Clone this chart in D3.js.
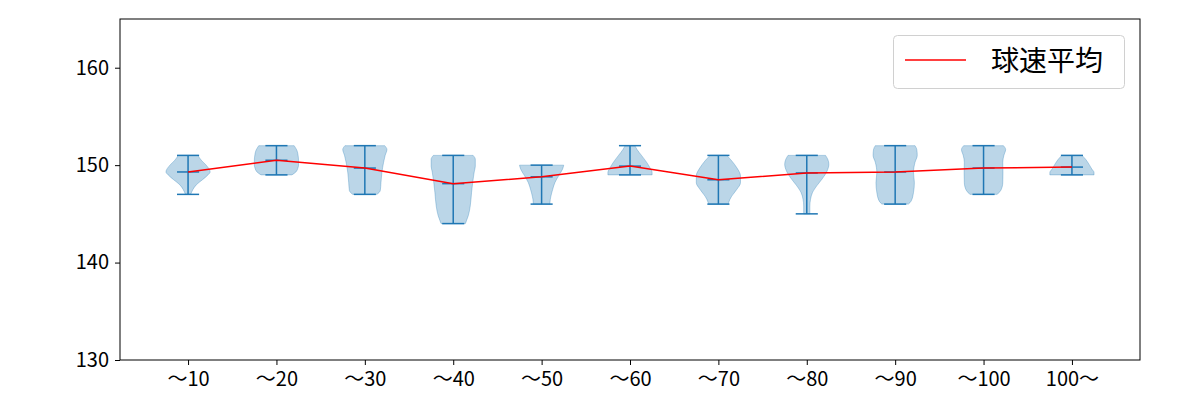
<!DOCTYPE html>
<html><head><meta charset="utf-8">
<script src="https://cdn.jsdelivr.net/npm/d3@7"></script>
<style>body{margin:0;background:#fff}svg{display:block}text{font-family:"Noto Sans CJK JP","Noto Sans",sans-serif}</style>
</head><body><svg id="c" width="1200" height="400"></svg>
<script>
const categories = ["〜10","〜20","〜30","〜40","〜50","〜60","〜70","〜80","〜90","〜100","100〜"];
const minVals  = [147,149,147,144,146,149,146,145,146,147,149];
const maxVals  = [151,152,152,151,150,152,151,151,152,152,151];
const meanVals = [149.3,150.5,149.7,148.1,148.8,149.9,148.5,149.2,149.3,149.7,149.8];
// density profiles: [value, relative half-width]
const profiles = [
  [[147,0.12],[147.5,0.22],[148,0.38],[148.5,0.65],[149,0.9],[149.3,1.0],[150,0.82],[150.5,0.6],[151,0.45]],
  [[149,0.7],[149.3,0.88],[149.7,0.97],[150,1.0],[150.5,1.0],[151,0.98],[151.5,0.93],[152,0.8]],
  [[147,0.55],[147.4,0.7],[148.2,0.73],[149.2,0.77],[150.3,0.85],[151,0.92],[151.6,1.0],[152,0.9]],
  [[144,0.55],[144.3,0.6],[144.8,0.68],[145.8,0.77],[147.2,0.83],[148.2,0.88],[149.3,0.95],[149.9,1.0],[150.6,1.0],[151,0.9]],
  [[146,0.38],[146.2,0.38],[146.8,0.42],[147.5,0.5],[148.2,0.6],[148.9,0.77],[149.6,0.95],[150,1.0]],
  [[149,1.0],[149.25,1.0],[149.75,0.9],[150.3,0.75],[151,0.52],[151.6,0.32],[152,0.22]],
  [[146,0.45],[146.2,0.47],[146.8,0.6],[147.5,0.83],[148.2,1.0],[148.9,1.0],[149.75,0.83],[150.45,0.6],[151,0.38]],
  [[145,0.14],[145.8,0.14],[146.5,0.17],[147.2,0.26],[147.9,0.46],[148.6,0.7],[149.4,0.92],[150.1,1.0],[150.6,0.95],[151,0.85]],
  [[146,0.6],[146.3,0.72],[147.2,0.83],[148.2,0.87],[149.25,0.83],[150.3,0.9],[151,1.0],[151.6,0.98],[152,0.9]],
  [[147,0.62],[147.5,0.8],[148.2,0.87],[149.25,0.88],[150.3,0.87],[151,0.92],[151.6,1.0],[152,0.9]],
  [[149,1.0],[149.25,1.0],[149.6,0.9],[150.1,0.77],[150.6,0.62],[151,0.46]]
];
const yTicks = [130,140,150,160];
const legendLabel = "球速平均";

const L=120,R=1140,T=19,B=360;
const svg=d3.select("#c");
const x=d3.scaleLinear().domain([0.23,11.77]).range([L,R]);
const y=d3.scaleLinear().domain([130,165]).range([B,T]);
const halfW=0.25, capW=0.125;
const blue="#1f77b4";

const g=svg.append("g");
profiles.forEach((p,i)=>{
  const c=i+1;
  const area=d3.area().curve(d3.curveMonotoneY)
    .y(d=>y(d[0]))
    .x0(d=>x(c-halfW*d[1]))
    .x1(d=>x(c+halfW*d[1]));
  g.append("path").attr("d",area(p)).attr("fill",blue).attr("fill-opacity",0.3)
    .attr("stroke",blue).attr("stroke-opacity",0.3).attr("stroke-width",1);
});
categories.forEach((cat,i)=>{
  const c=i+1;
  g.append("line").attr("x1",x(c)).attr("x2",x(c)).attr("y1",y(minVals[i])).attr("y2",y(maxVals[i]))
    .attr("stroke",blue).attr("stroke-width",1.5);
  [minVals[i],maxVals[i],meanVals[i]].forEach(v=>{
    g.append("line").attr("x1",x(c-capW)).attr("x2",x(c+capW)).attr("y1",y(v)).attr("y2",y(v))
      .attr("stroke",blue).attr("stroke-width",1.5);
  });
});
const line=d3.line().x((d,i)=>x(i+1)).y(d=>y(d));
g.append("path").attr("d",line(meanVals)).attr("fill","none").attr("stroke","red").attr("stroke-width",1.5);

const xAxis=d3.axisBottom(x).tickValues(d3.range(1,12)).tickFormat((d,i)=>categories[i]).tickSize(5).tickPadding(7);
const yAxis=d3.axisLeft(y).tickValues(yTicks).tickSize(5).tickPadding(6);
const gx=svg.append("g").attr("transform",`translate(0,${B})`).call(xAxis);
const gy=svg.append("g").attr("transform",`translate(${L},0)`).call(yAxis);
[gx,gy].forEach(a=>{a.select(".domain").remove();
  a.selectAll("line").attr("stroke","#000").attr("stroke-width",1);
  a.selectAll("text").attr("fill","#000").style("font-size","20px").style("font-family",'"Noto Sans CJK JP",sans-serif');});
svg.append("rect").attr("x",L).attr("y",T).attr("width",R-L).attr("height",B-T)
  .attr("fill","none").attr("stroke","#000").attr("stroke-width",1);

const lg=svg.append("g");
lg.append("rect").attr("x",893.5).attr("y",35.5).attr("width",231).attr("height",53).attr("rx",4)
  .attr("fill","#fff").attr("fill-opacity",0.8).attr("stroke","#d0d0d0").attr("stroke-width",1);
lg.append("line").attr("x1",905).attr("x2",966).attr("y1",60).attr("y2",60).attr("stroke","red").attr("stroke-width",1.5);
lg.append("text").attr("x",991).attr("y",61).attr("dy","0.35em").style("font-size","28px").attr("fill","#000").text(legendLabel);
</script></body></html>
